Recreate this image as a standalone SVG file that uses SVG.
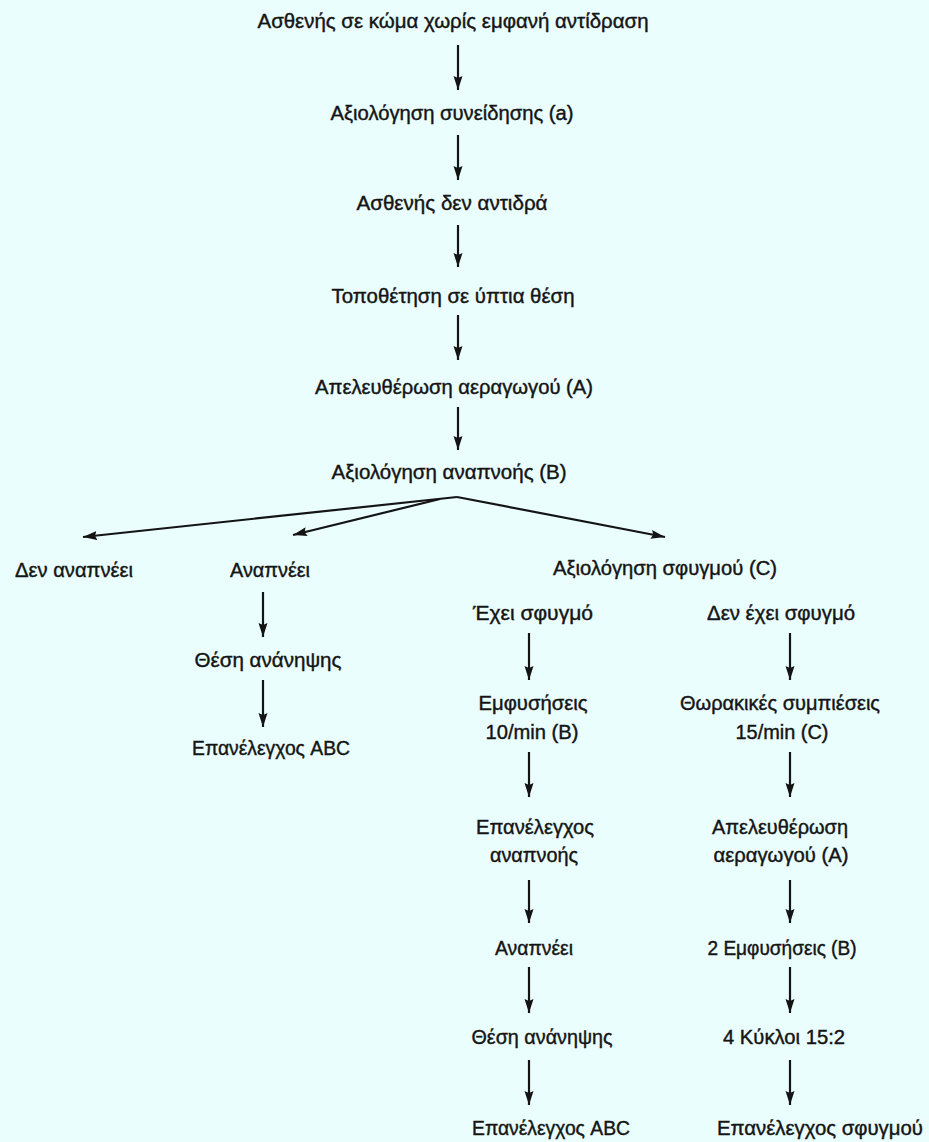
<svg xmlns="http://www.w3.org/2000/svg" width="929" height="1142" viewBox="0 0 929 1142">
<defs>
<style>
text{font-family:"Liberation Sans","DejaVu Sans",sans-serif;font-size:20px;fill:#141414;stroke:#141414;stroke-width:0.4;text-anchor:middle}
.c{stroke:#141414;stroke-width:2.2;fill:none}
</style>
<marker id="ah" markerUnits="userSpaceOnUse" markerWidth="15" markerHeight="10" refX="14" refY="5" orient="auto">
<path d="M0,0.5 L14,5 L0,9.5 L2,5 Z" fill="#141414"/>
</marker>
</defs>
<rect width="929" height="1142" fill="#eafefe"/>
<g id="connectors">
<line class="c" x1="458" y1="45" x2="458" y2="90" marker-end="url(#ah)"/>
<line class="c" x1="458" y1="135" x2="458" y2="180" marker-end="url(#ah)"/>
<line class="c" x1="458" y1="225" x2="458" y2="267" marker-end="url(#ah)"/>
<line class="c" x1="458" y1="315" x2="458" y2="360" marker-end="url(#ah)"/>
<line class="c" x1="458" y1="407" x2="458" y2="450" marker-end="url(#ah)"/>
<line class="c" x1="457" y1="497" x2="83" y2="537" marker-end="url(#ah)"/>
<line class="c" x1="440" y1="499" x2="293" y2="535" marker-end="url(#ah)"/>
<line class="c" x1="457" y1="497" x2="665" y2="537" marker-end="url(#ah)"/>
<line class="c" x1="263" y1="592" x2="263" y2="637" marker-end="url(#ah)"/>
<line class="c" x1="263" y1="680" x2="263" y2="727" marker-end="url(#ah)"/>
<line class="c" x1="529" y1="633" x2="529" y2="680" marker-end="url(#ah)"/>
<line class="c" x1="790" y1="633" x2="790" y2="680" marker-end="url(#ah)"/>
<line class="c" x1="529" y1="752" x2="529" y2="797" marker-end="url(#ah)"/>
<line class="c" x1="790" y1="752" x2="790" y2="797" marker-end="url(#ah)"/>
<line class="c" x1="529" y1="880" x2="529" y2="923" marker-end="url(#ah)"/>
<line class="c" x1="790" y1="880" x2="790" y2="923" marker-end="url(#ah)"/>
<line class="c" x1="529" y1="967" x2="529" y2="1013" marker-end="url(#ah)"/>
<line class="c" x1="790" y1="967" x2="790" y2="1013" marker-end="url(#ah)"/>
<line class="c" x1="529" y1="1060" x2="529" y2="1105" marker-end="url(#ah)"/>
<line class="c" x1="790" y1="1060" x2="790" y2="1105" marker-end="url(#ah)"/>
</g>
<g id="n1"><text x="453" y="28" textLength="391" lengthAdjust="spacingAndGlyphs">Ασθενής σε κώμα χωρίς εμφανή αντίδραση</text></g>
<g id="n2"><text x="452" y="120" textLength="243" lengthAdjust="spacingAndGlyphs">Αξιολόγηση συνείδησης (a)</text></g>
<g id="n3"><text x="452" y="210" textLength="191" lengthAdjust="spacingAndGlyphs">Ασθενής δεν αντιδρά</text></g>
<g id="n4"><text x="453" y="303" textLength="243" lengthAdjust="spacingAndGlyphs">Τοποθέτηση σε ύπτια θέση</text></g>
<g id="n5"><text x="454" y="394" textLength="278" lengthAdjust="spacingAndGlyphs">Απελευθέρωση αεραγωγού (A)</text></g>
<g id="n6"><text x="449" y="479" textLength="235" lengthAdjust="spacingAndGlyphs">Αξιολόγηση αναπνοής (B)</text></g>
<g id="n7"><text x="74" y="577" textLength="118" lengthAdjust="spacingAndGlyphs">Δεν αναπνέει</text></g>
<g id="n8"><text x="270" y="577" textLength="80" lengthAdjust="spacingAndGlyphs">Αναπνέει</text></g>
<g id="n9"><text x="665" y="575" textLength="224" lengthAdjust="spacingAndGlyphs">Αξιολόγηση σφυγμού (C)</text></g>
<g id="n10"><text x="268" y="667" textLength="147" lengthAdjust="spacingAndGlyphs">Θέση ανάνηψης</text></g>
<g id="n11"><text x="271" y="755" textLength="158" lengthAdjust="spacingAndGlyphs">Επανέλεγχος ABC</text></g>
<g id="n12"><text x="533" y="620" textLength="120" lengthAdjust="spacingAndGlyphs">Έχει σφυγμό</text></g>
<g id="n13"><text x="781" y="620" textLength="148" lengthAdjust="spacingAndGlyphs">Δεν έχει σφυγμό</text></g>
<g id="n14"><text x="533" y="710" textLength="109" lengthAdjust="spacingAndGlyphs">Εμφυσήσεις</text><text x="532" y="739" textLength="93" lengthAdjust="spacingAndGlyphs">10/min (B)</text></g>
<g id="n15"><text x="780" y="710" textLength="200" lengthAdjust="spacingAndGlyphs">Θωρακικές συμπιέσεις</text><text x="782" y="739" textLength="93" lengthAdjust="spacingAndGlyphs">15/min (C)</text></g>
<g id="n16"><text x="535" y="834" textLength="118" lengthAdjust="spacingAndGlyphs">Επανέλεγχος</text><text x="534" y="862" textLength="88" lengthAdjust="spacingAndGlyphs">αναπνοής</text></g>
<g id="n17"><text x="780" y="834" textLength="136" lengthAdjust="spacingAndGlyphs">Απελευθέρωση</text><text x="781" y="862" textLength="135" lengthAdjust="spacingAndGlyphs">αεραγωγού (A)</text></g>
<g id="n18"><text x="534" y="955" textLength="78" lengthAdjust="spacingAndGlyphs">Αναπνέει</text></g>
<g id="n19"><text x="782" y="955" textLength="149" lengthAdjust="spacingAndGlyphs">2 Εμφυσήσεις (B)</text></g>
<g id="n20"><text x="542" y="1044" textLength="141" lengthAdjust="spacingAndGlyphs">Θέση ανάνηψης</text></g>
<g id="n21"><text x="784" y="1044" textLength="122" lengthAdjust="spacingAndGlyphs">4 Κύκλοι 15:2</text></g>
<g id="n22"><text x="551" y="1135" textLength="158" lengthAdjust="spacingAndGlyphs">Επανέλεγχος ABC</text></g>
<g id="n23"><text x="820" y="1135" textLength="206" lengthAdjust="spacingAndGlyphs">Επανέλεγχος σφυγμού</text></g>
</svg>
